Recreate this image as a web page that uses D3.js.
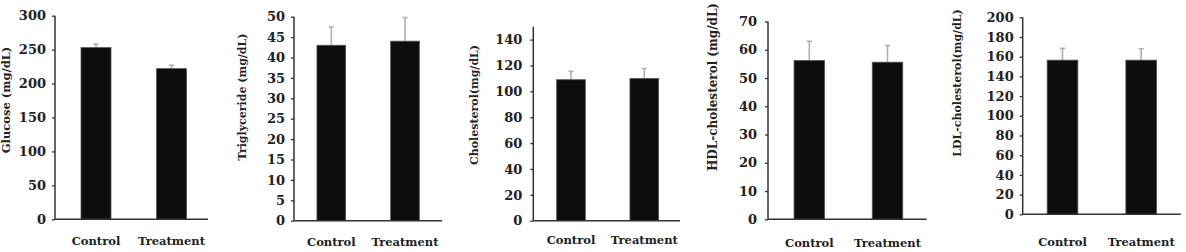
<!DOCTYPE html>
<html><head><meta charset="utf-8">
<script src="https://cdn.jsdelivr.net/npm/d3@7"></script>
<style>body{margin:0;background:#fff}svg{display:block}</style>
</head><body>
<svg id="c" width="1186" height="252"></svg>
<script>
const categories = ["Control", "Treatment"];
const glucoseMean = [253, 222];
const glucoseErr = [5, 5];
const glucoseTicks = [0, 50, 100, 150, 200, 250, 300];
const trigMean = [43, 44];
const trigErr = [4.5, 5.8];
const trigTicks = [0, 5, 10, 15, 20, 25, 30, 35, 40, 45, 50];
const cholMean = [109, 110];
const cholErr = [6.5, 7.7];
const cholTicks = [0, 20, 40, 60, 80, 100, 120, 140];
const hdlMean = [56.2, 55.6];
const hdlErr = [6.8, 5.9];
const hdlTicks = [0, 10, 20, 30, 40, 50, 60, 70];
const ldlMean = [156.5, 156.5];
const ldlErr = [12, 11.5];
const ldlTicks = [0, 20, 40, 60, 80, 100, 120, 140, 160, 180, 200];
const yLabels = ["Glucose (mg/dL)", "Triglyceride (mg/dL)", "Cholesterol(mg/dL)", "HDL-cholesterol (mg/dL)", "LDL-cholesterol(mg/dL)"];

const panels = [
  {mean: glucoseMean, err: glucoseErr, ticks: glucoseTicks, max: 300, label: yLabels[0],
   ax: 55, y0: 219.3, y1: 15.7, xEnd: 208, c: [96, 171.5], bw: 30, lx: 10, ly: 100, lfs: 11.5, tfs: 13, tgap: 9, cy: 245},
  {mean: trigMean, err: trigErr, ticks: trigTicks, max: 50, label: yLabels[1],
   ax: 294, y0: 220.7, y1: 16.7, xEnd: 442, c: [331.3, 405], bw: 28.7, lx: 246, ly: 97, lfs: 11, tfs: 13, tgap: 9, cy: 246},
  {mean: cholMean, err: cholErr, ticks: cholTicks, max: 150, label: yLabels[2],
   ax: 533.3, y0: 220.7, y1: 26.7, xEnd: 680, c: [571, 644.3], bw: 28.7, lx: 478, ly: 105, lfs: 11, tfs: 13, tgap: 11, cy: 244},
  {mean: hdlMean, err: hdlErr, ticks: hdlTicks, max: 70, label: yLabels[3],
   ax: 768, y0: 219.3, y1: 21.5, xEnd: 926.7, c: [809.3, 887.5], bw: 30.5, lx: 717, ly: 87, lfs: 12, tfs: 13, tgap: 11, cy: 247},
  {mean: ldlMean, err: ldlErr, ticks: ldlTicks, max: 200, label: yLabels[4],
   ax: 1022.7, y0: 214.3, y1: 17.3, xEnd: 1180.7, c: [1062.5, 1141.2], bw: 30.7, lx: 961, ly: 83, lfs: 11, tfs: 13, tgap: 9, cy: 246}
];

const svg = d3.select("#c");
const FONT = "'DejaVu Serif', serif";

panels.forEach(p => {
  const y = d3.scaleLinear().domain([0, p.max]).range([p.y0, p.y1]);
  const x = d3.scalePoint().domain(categories).range(p.c);
  const g = svg.append("g");

  // error bars (upper only)
  categories.forEach((cat, i) => {
    const cx = x(cat), top = y(p.mean[i] + p.err[i]);
    g.append("line").attr("x1", cx).attr("x2", cx).attr("y1", y(p.mean[i])).attr("y2", top)
      .attr("stroke", "#b0b0b0").attr("stroke-width", 1.6);
    g.append("line").attr("x1", cx - 2.5).attr("x2", cx + 2.5).attr("y1", top).attr("y2", top)
      .attr("stroke", "#b0b0b0").attr("stroke-width", 1.6);
  });

  // bars
  g.selectAll("rect.bar").data(categories).join("rect").attr("class", "bar")
    .attr("x", d => x(d) - p.bw / 2).attr("width", p.bw)
    .attr("y", (d, i) => y(p.mean[i])).attr("height", (d, i) => p.y0 - y(p.mean[i]))
    .attr("fill", "#0d0d0d").attr("stroke", "#555").attr("stroke-width", 0.8);

  // y axis
  const yAxis = d3.axisLeft(y).tickValues(p.ticks).tickSize(3).tickPadding(p.tgap - 3).tickFormat(d3.format("d"));
  const ga = g.append("g").attr("transform", `translate(${p.ax},0)`).call(yAxis);
  ga.select(".domain").attr("d", `M0,${y(p.max)}V${p.y0}`).attr("stroke", "#333").attr("stroke-width", 1.5);
  ga.selectAll(".tick line").attr("stroke", "#333").attr("stroke-width", 1.3);
  ga.selectAll(".tick text").attr("fill", "#222").style("font-family", FONT).style("font-weight", "bold").style("font-size", p.tfs + "px");

  // x axis line
  g.append("line").attr("x1", p.ax).attr("x2", p.xEnd).attr("y1", p.y0).attr("y2", p.y0)
    .attr("stroke", "#333").attr("stroke-width", 1.5);

  // category labels
  g.selectAll("text.cat").data(categories).join("text").attr("class", "cat")
    .attr("x", d => x(d)).attr("y", p.cy).attr("text-anchor", "middle")
    .style("font-family", FONT).style("font-weight", "bold").style("font-size", "11.5px").attr("fill", "#222")
    .text(d => d);

  // y label
  g.append("text").attr("transform", `translate(${p.lx},${p.ly}) rotate(-90)`)
    .attr("text-anchor", "middle").style("font-family", FONT).style("font-weight", "bold")
    .style("font-size", p.lfs + "px").attr("fill", "#222").text(p.label);
});
</script>
</body></html>
